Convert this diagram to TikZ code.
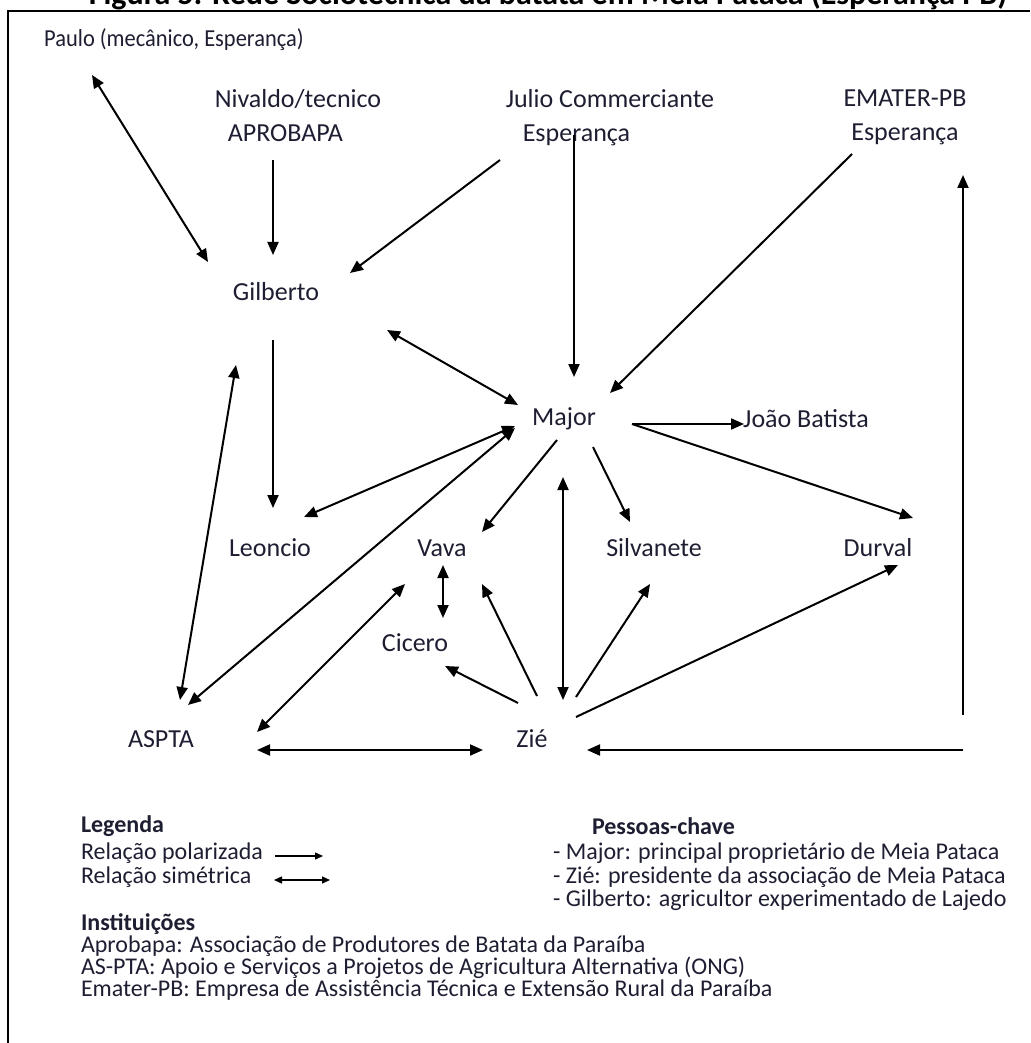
\documentclass[tikz,border=0pt]{standalone}
\usepackage{fontspec}
\setmainfont{Carlito}
\usetikzlibrary{arrows.meta}
\definecolor{ink}{RGB}{30,30,50}
\begin{document}
\begin{tikzpicture}[x=0.5pt, y=-0.5pt, line width=1pt, >={Triangle[length=6.5pt,width=5.5pt]},
    actor/.style={font=\fontsize{13}{17}\selectfont, text=ink, inner sep=0pt},
    legline/.style={font=\fontsize{12}{14}\selectfont, text=ink, anchor=west, inner sep=0pt},
    leghead/.style={legline, font=\fontsize{12}{14}\selectfont\bfseries},
    legarrow/.style={line width=0.7pt, >={Triangle[length=4pt,width=3.5pt]}}]
    \useasboundingbox (0,0) rectangle (1030,1043);
    \node[anchor=base, font=\fontsize{16}{18}\selectfont\bfseries] (title) at (548,5) {Figura 5: Rede Sociotécnica da batata em Meia Pataca (Esperança PB)};
    \draw[line width=0.8pt] (8,1043) -- (8,11) -- (1030,11);
    \node[actor, font=\fontsize{12.2}{15}\selectfont] (paulo) at (174,40) {\scalebox{0.92}[1]{Paulo (mecânico, Esperança)}};
    \node[actor, align=left] (nivaldo) at (298,116) {Nivaldo/tecnico\\\hspace*{6.5pt}APROBAPA};
    \node[actor, align=left] (julio) at (610,118) {Julio Commerciante\\\hspace*{8.5pt}Esperança};
    \node[actor, align=center] (emater) at (905,117) {EMATER-PB\\Esperança};
    \node[actor] (gilberto) at (276,292) {Gilberto};
    \node[actor] (major) at (564,419) {Major};
    \node[actor, right of=major, node distance=121pt] (joao) {João Batista};
    \node[actor] (leoncio) at (270,548) {Leoncio};
    \node[actor] (vava) at (442,548) {Vava};
    \node[actor] (silvanete) at (654,548) {Silvanete};
    \node[actor, right of=silvanete, node distance=112pt] (durval) {Durval};
    \node[actor] (cicero) at (415,643) {Cicero};
    \node[actor] (aspta) at (161,739) {ASPTA};
    \node[actor, right of=aspta, node distance=185.5pt] (zie) {Zié};
    \draw[<->] ([shift={(-82,35)}]paulo.center) -- ([shift={(-68,-30)}]gilberto.center);
    \draw[->] ([shift={(-25,44)}]nivaldo.center) -- ([shift={(-3,-37)}]gilberto.center);
    \draw[->] ([shift={(-110,42)}]julio.center) -- ([shift={(74,-19)}]gilberto.center);
    \draw[->] ([shift={(-36,17)}]julio.center) -- ([shift={(10,-42)}]major.center);
    \draw[->] ([shift={(-53,37)}]emater.center) -- ([shift={(46,-26)}]major.center);
    \draw[<->] ([shift={(111,38)}]gilberto.center) -- ([shift={(-46,-14)}]major.center);
    \draw[->] ([shift={(-3,48)}]gilberto.center) -- ([shift={(3,-40)}]leoncio.center);
    \draw[<->] ([shift={(-40,73)}]gilberto.center) -- ([shift={(19,-39)}]aspta.center);
    \draw[<->] ([shift={(-49,7)}]major.center) -- ([shift={(34,-31)}]leoncio.center);
    \draw[<->] ([shift={(-49,9)}]major.center) -- ([shift={(27,-34)}]aspta.center);
    \draw[->] ([shift={(-7,21)}]major.center) -- ([shift={(40,-16)}]vava.center);
    \draw[->] ([shift={(29,28)}]major.center) -- ([shift={(-24,-26)}]silvanete.center);
    \draw[->] ([shift={(68,5)}]major.center) -- ([shift={(-62,5)}]joao.center);
    \draw[->] ([shift={(68,5)}]major.center) -- ([shift={(35,-30)}]durval.center);
    \draw[<->] ([shift={(31,-39)}]zie.center) -- ([shift={(-1,58)}]major.center);
    \draw[<->] ([shift={(1,17)}]vava.center) -- ([shift={(28,-25)}]cicero.center);
    \draw[<->] ([shift={(-37,36)}]vava.center) -- ([shift={(96,-7)}]aspta.center);
    \draw[->] ([shift={(-14,-36)}]zie.center) -- ([shift={(30,23)}]cicero.center);
    \draw[->] ([shift={(5,-43)}]zie.center) -- ([shift={(40,36)}]vava.center);
    \draw[->] ([shift={(44,-42)}]zie.center) -- ([shift={(-4,36)}]silvanete.center);
    \draw[->] ([shift={(44,-22)}]zie.center) -- ([shift={(20,17)}]durval.center);
    \draw[<->] ([shift={(96,11)}]aspta.center) -- ([shift={(-49,11)}]zie.center);
    \coordinate (elbowlow) at (963,750);
    \coordinate (elbowhigh) at (963,715);
    \draw[->] (elbowlow) -- ([shift={(55,11)}]zie.center);
    \draw[->] (elbowhigh) -- ([shift={(58,58)}]emater.center);
    \node[leghead] (legenda) at (80,826) {Legenda};
    \node[legline] (legpol) at (80,853) {Relação polarizada};
    \node[legline] (legsim) at (80,877) {Relação simétrica};
    \coordinate (polstart) at (275,856);
    \coordinate (polend) at (323,856);
    \coordinate (simstart) at (274,880);
    \coordinate (simend) at (330,880);
    \draw[legarrow, ->] (polstart) -- (polend);
    \draw[legarrow, <->] (simstart) -- (simend);
    \node[leghead] (pessoas) at (591,826) {Pessoas-chave};
    \node[legline] (keymajor) at (552,853) {- Major: principal proprietário de Meia Pataca};
    \node[legline] (keyzie) at (552,877) {- Zié: presidente da associação de Meia Pataca};
    \node[legline] (keygilberto) at (552,900) {- Gilberto: agricultor experimentado de Lajedo};
    \node[leghead] (inst) at (80,924) {Instituições};
    \node[legline] (instaprobapa) at (80,946) {Aprobapa: Associação de Produtores de Batata da Paraíba};
    \node[legline] (instaspta) at (80,968) {AS-PTA: Apoio e Serviços a Projetos de Agricultura Alternativa (ONG)};
    \node[legline] (instemater) at (80,990) {Emater-PB: Empresa de Assistência Técnica e Extensão Rural da Paraíba};
\end{tikzpicture}
\end{document}
